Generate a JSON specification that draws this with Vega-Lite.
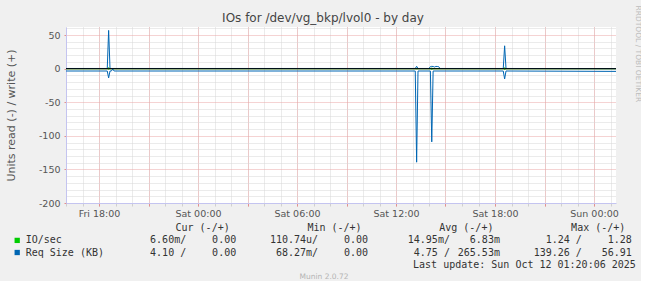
{
  "$schema": "https://vega.github.io/schema/vega-lite/v6.json",
  "background": "#f0f0f0",
  "padding": {"left": 4, "top": 5, "right": 0, "bottom": 0},
  "title": {"text": "IOs for /dev/vg_bkp/lvol0 - by day", "font": "DejaVu Sans", "fontSize": 12, "fontWeight": "normal", "color": "#444444", "anchor": "middle", "offset": -20},
  "bounds": "flush",
  "spacing": 17,
  "config": {"view": {"stroke": null}, "font": "DejaVu Sans", "locale": {"number": {"decimal": ".", "thousands": ",", "grouping": [3], "currency": ["$", ""], "minus": "-"}}},
  "vconcat": [
    {
      "width": 550,
      "height": 176,
      "view": {"fill": "#ffffff", "stroke": null},
      "data": {"values": [
        {"t": "2025-10-10T16:00", "series": "IO/sec", "dir": "read", "v": -0.015},
        {"t": "2025-10-10T18:30", "series": "IO/sec", "dir": "read", "v": -0.015},
        {"t": "2025-10-10T18:35", "series": "IO/sec", "dir": "read", "v": -0.8},
        {"t": "2025-10-10T18:40", "series": "IO/sec", "dir": "read", "v": -0.015},
        {"t": "2025-10-11T13:10", "series": "IO/sec", "dir": "read", "v": -0.015},
        {"t": "2025-10-11T13:15", "series": "IO/sec", "dir": "read", "v": -0.4},
        {"t": "2025-10-11T13:20", "series": "IO/sec", "dir": "read", "v": -0.015},
        {"t": "2025-10-11T14:05", "series": "IO/sec", "dir": "read", "v": -0.015},
        {"t": "2025-10-11T14:10", "series": "IO/sec", "dir": "read", "v": -1.0},
        {"t": "2025-10-11T14:15", "series": "IO/sec", "dir": "read", "v": -0.015},
        {"t": "2025-10-11T18:30", "series": "IO/sec", "dir": "read", "v": -0.015},
        {"t": "2025-10-11T18:35", "series": "IO/sec", "dir": "read", "v": -1.24},
        {"t": "2025-10-11T18:40", "series": "IO/sec", "dir": "read", "v": -0.015},
        {"t": "2025-10-12T01:20", "series": "IO/sec", "dir": "read", "v": -0.0066},
        {"t": "2025-10-10T16:00", "series": "IO/sec", "dir": "write", "v": 0.007},
        {"t": "2025-10-10T18:30", "series": "IO/sec", "dir": "write", "v": 0.007},
        {"t": "2025-10-10T18:35", "series": "IO/sec", "dir": "write", "v": 1.28},
        {"t": "2025-10-10T18:40", "series": "IO/sec", "dir": "write", "v": 0.007},
        {"t": "2025-10-11T13:10", "series": "IO/sec", "dir": "write", "v": 0.007},
        {"t": "2025-10-11T13:15", "series": "IO/sec", "dir": "write", "v": 0.3},
        {"t": "2025-10-11T13:20", "series": "IO/sec", "dir": "write", "v": 0.007},
        {"t": "2025-10-11T14:05", "series": "IO/sec", "dir": "write", "v": 0.007},
        {"t": "2025-10-11T14:10", "series": "IO/sec", "dir": "write", "v": 0.8},
        {"t": "2025-10-11T14:15", "series": "IO/sec", "dir": "write", "v": 0.007},
        {"t": "2025-10-11T18:30", "series": "IO/sec", "dir": "write", "v": 0.007},
        {"t": "2025-10-11T18:35", "series": "IO/sec", "dir": "write", "v": 1.1},
        {"t": "2025-10-11T18:40", "series": "IO/sec", "dir": "write", "v": 0.007},
        {"t": "2025-10-12T01:20", "series": "IO/sec", "dir": "write", "v": 0.0},
        {"t": "2025-10-10T16:00", "series": "Req Size (KB)", "dir": "read", "v": -3.5},
        {"t": "2025-10-10T18:30", "series": "Req Size (KB)", "dir": "read", "v": -3.5},
        {"t": "2025-10-10T18:35", "series": "Req Size (KB)", "dir": "read", "v": -13.8},
        {"t": "2025-10-10T18:40", "series": "Req Size (KB)", "dir": "read", "v": -3.5},
        {"t": "2025-10-10T18:45", "series": "Req Size (KB)", "dir": "read", "v": -3.5},
        {"t": "2025-10-10T18:50", "series": "Req Size (KB)", "dir": "read", "v": -0.6},
        {"t": "2025-10-10T18:55", "series": "Req Size (KB)", "dir": "read", "v": -3.5},
        {"t": "2025-10-11T13:10", "series": "Req Size (KB)", "dir": "read", "v": -3.5},
        {"t": "2025-10-11T13:15", "series": "Req Size (KB)", "dir": "read", "v": -139.26},
        {"t": "2025-10-11T13:20", "series": "Req Size (KB)", "dir": "read", "v": -3.5},
        {"t": "2025-10-11T14:05", "series": "Req Size (KB)", "dir": "read", "v": -3.5},
        {"t": "2025-10-11T14:10", "series": "Req Size (KB)", "dir": "read", "v": -109},
        {"t": "2025-10-11T14:15", "series": "Req Size (KB)", "dir": "read", "v": -3.5},
        {"t": "2025-10-11T18:30", "series": "Req Size (KB)", "dir": "read", "v": -3.5},
        {"t": "2025-10-11T18:35", "series": "Req Size (KB)", "dir": "read", "v": -15.3},
        {"t": "2025-10-11T18:40", "series": "Req Size (KB)", "dir": "read", "v": -3.5},
        {"t": "2025-10-12T01:20", "series": "Req Size (KB)", "dir": "read", "v": -4.1},
        {"t": "2025-10-10T16:00", "series": "Req Size (KB)", "dir": "write", "v": 0.25},
        {"t": "2025-10-10T18:30", "series": "Req Size (KB)", "dir": "write", "v": 0.25},
        {"t": "2025-10-10T18:35", "series": "Req Size (KB)", "dir": "write", "v": 56.91},
        {"t": "2025-10-10T18:40", "series": "Req Size (KB)", "dir": "write", "v": 0.25},
        {"t": "2025-10-11T13:10", "series": "Req Size (KB)", "dir": "write", "v": 0.25},
        {"t": "2025-10-11T13:15", "series": "Req Size (KB)", "dir": "write", "v": 3.5},
        {"t": "2025-10-11T13:20", "series": "Req Size (KB)", "dir": "write", "v": 0.25},
        {"t": "2025-10-11T14:00", "series": "Req Size (KB)", "dir": "write", "v": 0.25},
        {"t": "2025-10-11T14:05", "series": "Req Size (KB)", "dir": "write", "v": 3.0},
        {"t": "2025-10-11T14:10", "series": "Req Size (KB)", "dir": "write", "v": 3.4},
        {"t": "2025-10-11T14:15", "series": "Req Size (KB)", "dir": "write", "v": 3.2},
        {"t": "2025-10-11T14:20", "series": "Req Size (KB)", "dir": "write", "v": 2.4},
        {"t": "2025-10-11T14:25", "series": "Req Size (KB)", "dir": "write", "v": 3.3},
        {"t": "2025-10-11T14:30", "series": "Req Size (KB)", "dir": "write", "v": 3.2},
        {"t": "2025-10-11T14:35", "series": "Req Size (KB)", "dir": "write", "v": 3.0},
        {"t": "2025-10-11T14:40", "series": "Req Size (KB)", "dir": "write", "v": 0.25},
        {"t": "2025-10-11T18:30", "series": "Req Size (KB)", "dir": "write", "v": 0.25},
        {"t": "2025-10-11T18:35", "series": "Req Size (KB)", "dir": "write", "v": 34},
        {"t": "2025-10-11T18:40", "series": "Req Size (KB)", "dir": "write", "v": 0.25},
        {"t": "2025-10-12T01:20", "series": "Req Size (KB)", "dir": "write", "v": 0.0}
      ]},
      "layer": [
        {
          "transform": [{"filter": "datum.series === 'IO/sec'"}],
          "mark": {"type": "line", "strokeWidth": 1},
          "encoding": {
            "x": {"field": "t", "type": "temporal", "scale": {"nice": false},
              "axis": {"orient": "bottom", "title": null, "tickCount": 34, "labels": false, "domain": false, "ticks": true, "tickSize": 3, "tickColor": "#cfcfcf", "grid": true, "gridColor": "#d6d6d6", "gridDash": [1, 1], "gridOpacity": 1}},
            "y": {"field": "v", "type": "quantitative", "scale": {"domain": [-200, 62], "nice": false, "zero": false},
              "axis": {"orient": "left", "title": null, "values": [-190, -180, -170, -160, -140, -130, -120, -110, -90, -80, -70, -60, -40, -30, -20, -10, 10, 20, 30, 40, 60], "labels": false, "domain": false, "ticks": false, "grid": true, "gridColor": "#d6d6d6", "gridDash": [1, 1], "gridOpacity": 1}},
            "color": {"field": "series", "type": "nominal", "scale": {"domain": ["IO/sec", "Req Size (KB)"], "range": ["#00cc00", "#0066b3"]}, "legend": null},
            "detail": {"field": "dir", "type": "nominal"}
          }
        },
        {
          "transform": [{"filter": "datum.series === 'Req Size (KB)'"}],
          "mark": {"type": "line", "strokeWidth": 1},
          "encoding": {
            "x": {"field": "t", "type": "temporal", "scale": {"nice": false},
              "axis": {"orient": "bottom", "title": null, "tickCount": 11, "format": "%a %H:%M", "labelOverlap": "parity", "labelSeparation": 10, "labelFlush": false,
                "labelFont": "DejaVu Sans", "labelFontSize": 9.5, "labelColor": "#555555", "labelPadding": 2,
                "tickSize": 3, "tickColor": "#e38f8f", "domainColor": "#c4c4f0",
                "grid": true, "gridColor": "#eba7a7", "gridDash": [1, 1], "gridOpacity": 1}},
            "y": {"field": "v", "type": "quantitative", "scale": {"domain": [-200, 62], "nice": false, "zero": false},
              "axis": {"orient": "left", "title": "Units read (-) / write (+)", "titleFont": "DejaVu Sans", "titleFontSize": 11, "titleFontWeight": "normal", "titleColor": "#555555", "titleX": -55, "titleBaseline": "middle",
                "values": [-200, -150, -100, -50, 0, 50], "format": "d",
                "labelFont": "DejaVu Sans", "labelFontSize": 9.5, "labelColor": "#555555", "labelPadding": 4,
                "tickSize": 2, "tickColor": "#e38f8f", "domainColor": "#c4c4f0",
                "grid": true, "gridColor": "#eba7a7", "gridDash": [1, 1], "gridOpacity": 1}},
            "color": {"field": "series", "type": "nominal", "scale": {"domain": ["IO/sec", "Req Size (KB)"], "range": ["#00cc00", "#0066b3"]}, "legend": null},
            "detail": {"field": "dir", "type": "nominal"}
          }
        },
        {
          "data": {"values": [{"zero": 0}]},
          "mark": {"type": "rule", "color": "#000000", "strokeWidth": 1},
          "encoding": {
            "y": {"field": "zero", "type": "quantitative", "scale": {"domain": [-200, 62], "nice": false, "zero": false},
              "axis": {"orient": "right", "domain": false, "ticks": false, "labels": false, "grid": false,
                "title": "RRDTOOL / TOBI OETIKER", "titleFont": "DejaVu Sans", "titleFontSize": 7.5, "titleFontWeight": "normal", "titleColor": "#bdbdbd",
                "titleAngle": 90, "titleAlign": "left", "titleBaseline": "middle", "titleX": 21, "titleY": -22}}
          }
        }
      ],
      "resolve": {"scale": {"y": "independent"}, "axis": {"x": "independent", "y": "independent"}}
    },
    {
      "width": 516,
      "height": 60,
      "data": {"values": [
        {"part": "head", "row": "head", "stat": "Cur", "text": "Cur (-/+)"},
        {"part": "head", "row": "head", "stat": "Min", "text": "Min (-/+)"},
        {"part": "head", "row": "head", "stat": "Avg", "text": "Avg (-/+)"},
        {"part": "head", "row": "head", "stat": "Max", "text": "Max (-/+)"},
        {"part": "label", "row": "IO/sec", "stat": "Cur", "text": "IO/sec"},
        {"part": "read", "row": "IO/sec", "stat": "Cur", "text": "6.60m/"},
        {"part": "write", "row": "IO/sec", "stat": "Cur", "text": "0.00"},
        {"part": "read", "row": "IO/sec", "stat": "Min", "text": "110.74u/"},
        {"part": "write", "row": "IO/sec", "stat": "Min", "text": "0.00"},
        {"part": "read", "row": "IO/sec", "stat": "Avg", "text": "14.95m/"},
        {"part": "write", "row": "IO/sec", "stat": "Avg", "text": "6.83m"},
        {"part": "read", "row": "IO/sec", "stat": "Max", "text": "1.24 /"},
        {"part": "write", "row": "IO/sec", "stat": "Max", "text": "1.28"},
        {"part": "label", "row": "Req Size (KB)", "stat": "Cur", "text": "Req Size (KB)"},
        {"part": "read", "row": "Req Size (KB)", "stat": "Cur", "text": "4.10 /"},
        {"part": "write", "row": "Req Size (KB)", "stat": "Cur", "text": "0.00"},
        {"part": "read", "row": "Req Size (KB)", "stat": "Min", "text": "68.27m/"},
        {"part": "write", "row": "Req Size (KB)", "stat": "Min", "text": "0.00"},
        {"part": "read", "row": "Req Size (KB)", "stat": "Avg", "text": "4.75 /"},
        {"part": "write", "row": "Req Size (KB)", "stat": "Avg", "text": "265.53m"},
        {"part": "read", "row": "Req Size (KB)", "stat": "Max", "text": "139.26 /"},
        {"part": "write", "row": "Req Size (KB)", "stat": "Max", "text": "56.91"},
        {"part": "note", "row": "update", "stat": "Max", "text": "Last update: Sun Oct 12 01:20:06 2025"},
        {"part": "footer", "row": "footer", "stat": "Min", "text": "Munin 2.0.72"}
      ]},
      "encoding": {
        "y": {"field": "row", "type": "nominal", "scale": {"type": "point", "padding": 0, "domain": ["head", "IO/sec", "Req Size (KB)", "update", "footer"], "range": [8.3, 56.7]}, "axis": null}
      },
      "layer": [
        {
          "transform": [{"filter": "datum.part === 'label'"}],
          "mark": {"type": "square", "size": 28, "filled": true, "opacity": 1, "xOffset": -219},
          "encoding": {
            "x": {"field": "stat", "type": "nominal", "scale": {"type": "point", "padding": 0, "domain": ["Cur", "Min", "Avg", "Max"], "range": [170.2, 565.8]}, "axis": null},
            "color": {"field": "row", "type": "nominal", "scale": {"domain": ["IO/sec", "Req Size (KB)"], "range": ["#00cc00", "#0066b3"]}, "legend": null}
          }
        },
        {
          "transform": [{"filter": "datum.part === 'label'"}],
          "mark": {"type": "text", "align": "left", "baseline": "middle", "dx": -210.5, "font": "DejaVu Sans Mono", "fontSize": 10, "color": "#333333"},
          "encoding": {"x": {"field": "stat", "type": "nominal", "scale": {"type": "point", "padding": 0, "domain": ["Cur", "Min", "Avg", "Max"], "range": [170.2, 565.8]}, "axis": null}, "text": {"field": "text"}}
        },
        {
          "transform": [{"filter": "datum.part === 'head'"}],
          "mark": {"type": "text", "align": "right", "baseline": "middle", "dx": -6.5, "font": "DejaVu Sans Mono", "fontSize": 10, "color": "#333333"},
          "encoding": {"x": {"field": "stat", "type": "nominal", "scale": {"type": "point", "padding": 0, "domain": ["Cur", "Min", "Avg", "Max"], "range": [170.2, 565.8]}, "axis": null}, "text": {"field": "text"}}
        },
        {
          "transform": [{"filter": "datum.part === 'read'"}],
          "mark": {"type": "text", "align": "right", "baseline": "middle", "dx": -50, "font": "DejaVu Sans Mono", "fontSize": 10, "color": "#333333"},
          "encoding": {"x": {"field": "stat", "type": "nominal", "scale": {"type": "point", "padding": 0, "domain": ["Cur", "Min", "Avg", "Max"], "range": [170.2, 565.8]}, "axis": null}, "text": {"field": "text"}}
        },
        {
          "transform": [{"filter": "datum.part === 'write'"}],
          "mark": {"type": "text", "align": "right", "baseline": "middle", "font": "DejaVu Sans Mono", "fontSize": 10, "color": "#333333"},
          "encoding": {"x": {"field": "stat", "type": "nominal", "scale": {"type": "point", "padding": 0, "domain": ["Cur", "Min", "Avg", "Max"], "range": [170.2, 565.8]}, "axis": null}, "text": {"field": "text"}}
        },
        {
          "transform": [{"filter": "datum.part === 'note'"}],
          "mark": {"type": "text", "align": "right", "baseline": "middle", "dx": 4, "font": "DejaVu Sans Mono", "fontSize": 10, "color": "#333333"},
          "encoding": {"x": {"field": "stat", "type": "nominal", "scale": {"type": "point", "padding": 0, "domain": ["Cur", "Min", "Avg", "Max"], "range": [170.2, 565.8]}, "axis": null}, "text": {"field": "text"}}
        },
        {
          "transform": [{"filter": "datum.part === 'footer'"}],
          "mark": {"type": "text", "align": "center", "baseline": "middle", "font": "DejaVu Sans", "fontSize": 7.5, "color": "#b4b4b4"},
          "encoding": {"text": {"field": "text"}}
        }
      ]
    }
  ]
}
